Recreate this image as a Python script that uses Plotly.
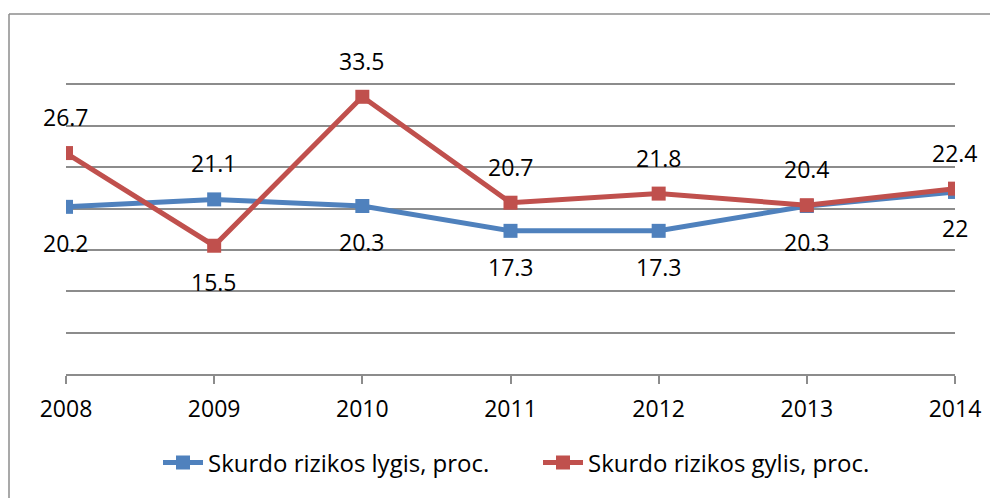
import plotly.graph_objects as go

years = [2008, 2009, 2010, 2011, 2012, 2013, 2014]
lygis = [20.2, 21.1, 20.3, 17.3, 17.3, 20.3, 22.0]
gylis = [26.7, 15.5, 33.5, 20.7, 21.8, 20.4, 22.4]
lygis_labels = ["20.2", "21.1", "20.3", "17.3", "17.3", "20.3", "22"]
gylis_labels = ["26.7", "15.5", "33.5", "20.7", "21.8", "20.4", "22.4"]
lygis_side = [-1, 1, -1, -1, -1, -1, -1]   # 1 above, -1 below
gylis_side = [1, -1, 1, 1, 1, 1, 1]

BLUE = "#4F81BD"
RED = "#C0504D"
GRID = "#8C8C8C"
FONT = "Open Sans"
FS = 23

W, H = 990, 490
L, T, PW, PH = 58, 35, 889, 331

fig = go.Figure()
fig.add_trace(go.Scatter(x=years, y=lygis, mode="lines+markers",
                         name="Skurdo rizikos lygis, proc.",
                         line=dict(color=BLUE, width=5),
                         marker=dict(symbol="square", size=14, color=BLUE)))
fig.add_trace(go.Scatter(x=years, y=gylis, mode="lines+markers",
                         name="Skurdo rizikos gylis, proc.",
                         line=dict(color=RED, width=5),
                         marker=dict(symbol="square", size=14, color=RED)))

annotations = []
for xs, ys, labs, sides in [(years, lygis, lygis_labels, lygis_side),
                            (years, gylis, gylis_labels, gylis_side)]:
    for x, y, t, s in zip(xs, ys, labs, sides):
        annotations.append(dict(x=x, y=y, xref="x", yref="y", text=t,
                                showarrow=False, yshift=36 * s,
                                font=dict(family=FONT, size=FS, color="#000000")))

def px(xp):
    return (xp - L) / PW

def py(yp):
    return (T + PH - yp) / PH

shapes = [
    dict(type="line", xref="paper", yref="paper", x0=px(1), x1=px(W + 5),
         y0=py(6), y1=py(6), line=dict(color="#8C8C8C", width=1.5)),
    dict(type="line", xref="paper", yref="paper", x0=px(1), x1=px(1),
         y0=py(6), y1=py(H + 5), line=dict(color="#8C8C8C", width=1.5)),
]

fig.update_layout(
    width=W, height=H,
    margin=dict(l=L, r=W - L - PW, t=T, b=H - T - PH),
    paper_bgcolor="white", plot_bgcolor="white",
    font=dict(family=FONT, size=FS, color="#000000"),
    showlegend=True,
    legend=dict(orientation="h", x=px(150), xanchor="left", y=py(455), yanchor="middle",
                font=dict(family=FONT, size=24), itemwidth=40, tracegroupgap=0,
                entrywidth=325, entrywidthmode="pixels"),
    annotations=annotations,
    shapes=shapes,
    xaxis=dict(range=[2008, 2014], tickvals=years, ticktext=[str(y) for y in years],
               showgrid=False, zeroline=False, showline=True, linecolor=GRID, linewidth=1.5,
               ticks="outside", ticklen=8, tickcolor=GRID, tickwidth=1.5,
               ticklabelstandoff=6,
               tickfont=dict(family=FONT, size=FS)),
    yaxis=dict(range=[0, 40], dtick=5, showgrid=True, gridcolor=GRID, gridwidth=1.5,
               zeroline=False, showticklabels=False, ticks=""),
)

fig.write_html("out.html")
